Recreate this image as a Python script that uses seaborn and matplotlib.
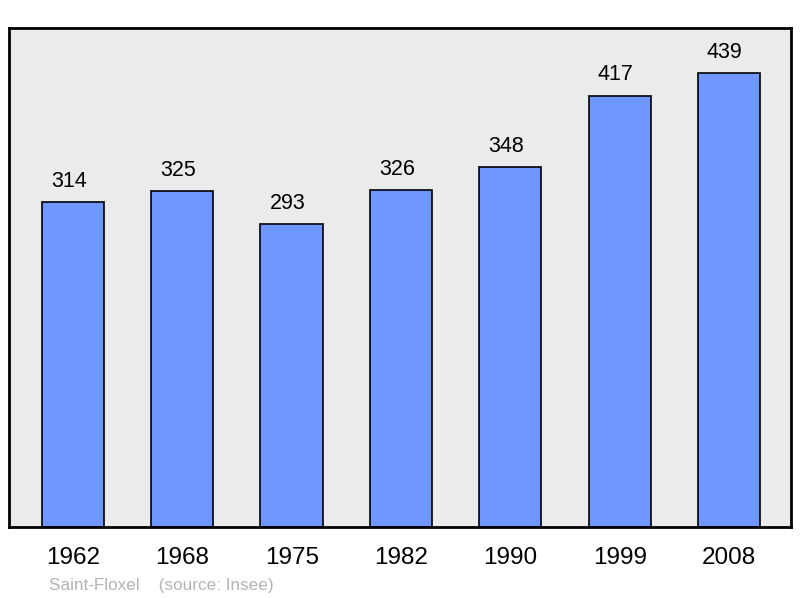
import matplotlib
matplotlib.use("Agg")
import matplotlib.pyplot as plt
import seaborn as sns
import pandas as pd

# Population data
years = ["1962", "1968", "1975", "1982", "1990", "1999", "2008"]
population = [314, 325, 293, 326, 348, 417, 439]

data = pd.DataFrame({"year": years, "population": population})

sns.set_style("white")
plt.rcParams["font.family"] = ["Liberation Sans", "DejaVu Sans"]

fig = plt.figure(figsize=(8, 5.98), dpi=100)
ax = fig.add_axes([0.01125, 0.1187, 0.9775, 0.8345])
ax.set_facecolor("#ebebeb")

sns.barplot(data=data, x="year", y="population", color="#7096ff", saturation=1,
            width=0.57, edgecolor="black", linewidth=1.2, ax=ax)

# value labels, slightly left of bar center like the original
for i, v in enumerate(population):
    ax.annotate(str(v), (i, v), xytext=(-3, 15), textcoords="offset points",
                ha="center", va="center", fontsize=15.5, color="black")

ax.set_xlim(-0.585, 6.567)
ax.set_ylim(0, 482.6)
ax.set_yticks([])
ax.set_xlabel("")
ax.set_ylabel("")
ax.tick_params(axis="x", length=0, pad=14.5, labelsize=17.5, labelcolor="black")
for s in ax.spines.values():
    s.set_linewidth(2)
    s.set_color("black")

fig.text(0.061, 0.013, "Saint-Floxel    (source: Insee)", fontsize=12.3, color="#b4b4b4")

fig.savefig("out.png", dpi=100)
